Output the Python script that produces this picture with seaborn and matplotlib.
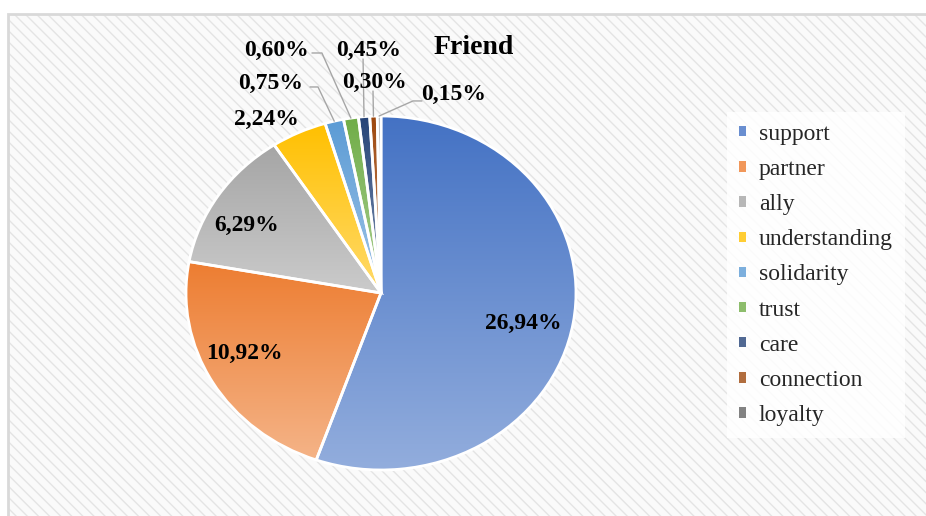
import numpy as np
import matplotlib
matplotlib.use("Agg")
import matplotlib.pyplot as plt
import seaborn as sns
from matplotlib.patches import Patch, Rectangle
from matplotlib.colors import to_rgb

# data
categories = ["support", "partner", "ally", "understanding", "solidarity",
              "trust", "care", "connection", "loyalty"]
shares = [26.94, 10.92, 6.29, 2.24, 0.75, 0.60, 0.45, 0.30, 0.15]
share_labels = ["26,94%", "10,92%", "6,29%", "2,24%", "0,75%",
                "0,60%", "0,45%", "0,30%", "0,15%"]
colors = ["#4472C4", "#ED7D31", "#A5A5A5", "#FFC000", "#5B9BD5",
          "#70AD47", "#264478", "#9E480E", "#636363"]
title = "Friend"

# label layout (pie units, radius 1)
inside_r = [0.75, 0.78, 0.785]
inside_shift = [-3.7, -4.4, 4.5]
outside_pos = [(-0.585, 0.983), (-0.564, 1.186), (-0.538, 1.373),
               (-0.062, 1.373), (-0.031, 1.192), (0.374, 1.119)]
outside_lines = [None,
                 [(-0.364, 1.164), (-0.323, 1.164)],
                 [(-0.354, 1.356), (-0.303, 1.356)],
                 [(-0.092, 1.322)],
                 [(-0.041, 1.141)],
                 [(0.210, 1.085), (0.164, 1.085)]]


def lighten(c, f):
    c = np.array(to_rgb(c))
    return c + (1 - c) * f


sns.set_theme(style="white")
plt.rcParams["font.family"] = ["Liberation Serif", "DejaVu Serif"]

fig = plt.figure(figsize=(9.26, 5.16), dpi=100)
fig.patch.set_facecolor("white")

# hatched chart area (behind the axes)
fig.patches.append(Rectangle((8 / 926, 0), 1, 1 - 14 / 516, transform=fig.transFigure,
                             facecolor="#fafafa", edgecolor="#e4e4e4", hatch="\\\\\\",
                             linewidth=0, zorder=-2))
fig.patches.append(Rectangle((8 / 926, -0.01), 1, 1 - 14 / 516 + 0.01, transform=fig.transFigure,
                             facecolor="none", edgecolor="#d9d9d9", linewidth=2, zorder=-1))

ax = fig.add_axes([186 / 926, 46 / 516, 390 / 926, 354 / 516])
ax.set_zorder(1)
wedges, _ = ax.pie(shares, colors=colors, startangle=90, counterclock=False,
                   wedgeprops=dict(edgecolor="white", linewidth=2))

# vertical gradient fill per slice
t = np.linspace(0, 1, 256)[:, None, None]
for w, c in zip(wedges, colors):
    top = np.array(to_rgb(c))
    bottom = lighten(c, 0.42)
    img = top * (1 - t) + bottom * t
    bb = w.get_path().get_extents()
    im = ax.imshow(img, extent=[bb.x0, bb.x1, bb.y0, bb.y1], aspect="auto",
                   interpolation="bilinear", zorder=1)
    im.set_clip_path(w)
    w.set_facecolor("none")
    w.set_zorder(2)
    w.set_clip_on(False)

ax.set_aspect("auto")
ax.set_xlim(-1, 1)
ax.set_ylim(-1, 1)
ax.axis("off")

# labels inside the big slices
for i in range(3):
    w = wedges[i]
    ang = np.deg2rad((w.theta1 + w.theta2) / 2 + inside_shift[i])
    ax.text(inside_r[i] * np.cos(ang), inside_r[i] * np.sin(ang), share_labels[i],
            ha="center", va="center", fontsize=17, fontweight="bold", color="black", zorder=3)

# labels outside with leader lines
for j, i in enumerate(range(3, len(shares))):
    w = wedges[i]
    x, y = outside_pos[j]
    ax.text(x, y, share_labels[i], ha="center", va="center", fontsize=17,
            fontweight="bold", color="black", zorder=3, clip_on=False)
    if outside_lines[j] is not None:
        ang = np.deg2rad((w.theta1 + w.theta2) / 2)
        pts = outside_lines[j] + [(np.cos(ang), np.sin(ang))]
        ax.plot([p[0] for p in pts], [p[1] for p in pts], color="#a6a6a6",
                linewidth=1, clip_on=False, zorder=3)

fig.text(474 / 926, 1 - 48 / 516, title, ha="center", va="center",
         fontsize=20, fontweight="bold", color="black")

handles = [Patch(facecolor=lighten(c, 0.2), edgecolor="none") for c in colors]
fig.legend(handles, categories, loc="upper left", bbox_to_anchor=(727 / 926, 1 - 112 / 516),
           frameon=True, facecolor="white", edgecolor="none", framealpha=0.85,
           fancybox=False, fontsize=17, handlelength=0.3, handleheight=0.3,
           handletextpad=0.55, labelspacing=0.6, borderpad=0.5, borderaxespad=0,
           labelcolor="#262626")

fig.savefig("out.png", dpi=100)
